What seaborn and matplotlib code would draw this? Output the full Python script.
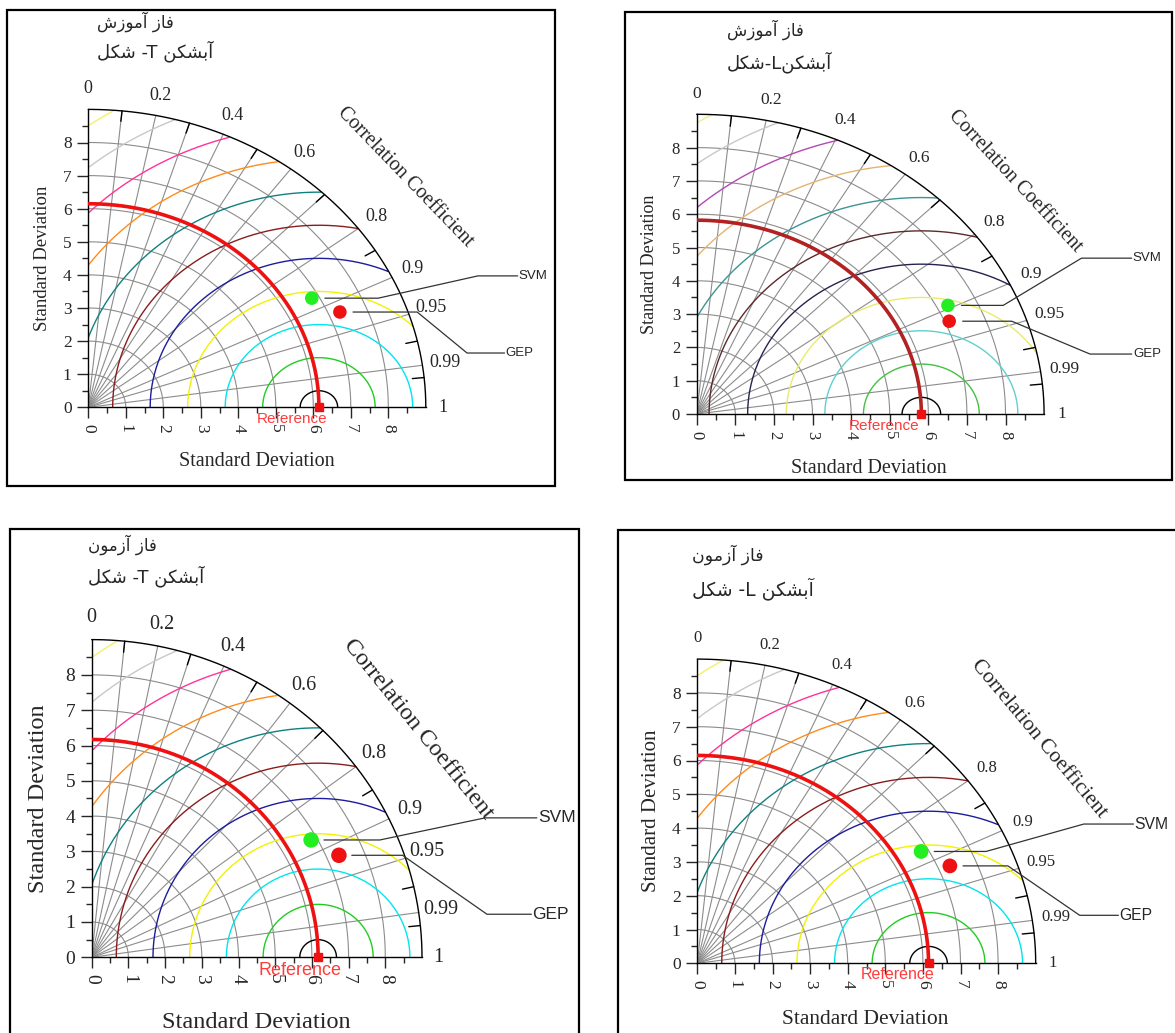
import numpy as np
import pandas as pd
import matplotlib.pyplot as plt
import seaborn as sns
from matplotlib.patches import Rectangle

sns.set_style('white')
plt.rcParams['font.family'] = ['Liberation Serif', 'DejaVu Sans']

# ---- data ----
phase_titles = ['فاز آموزش', 'فاز آموزش', 'فاز آزمون', 'فاز آزمون']
shape_titles = ['آبشکن T- شکل', 'آبشکنL-شکل', 'آبشکن T- شکل', 'آبشکن L- شکل']
models = ['SVM', 'GEP']
ref_std = [6.15, 5.82, 6.17, 6.15]
svm_std = [6.81, 7.28, 6.84, 6.81]
svm_corr = [0.875, 0.894, 0.874, 0.874]
gep_std = [7.30, 7.11, 7.33, 7.31]
gep_corr = [0.919, 0.920, 0.919, 0.919]
std_ticks = [0, 1, 2, 3, 4, 5, 6, 7, 8]
corr_ticks = [0, 0.2, 0.4, 0.6, 0.8, 0.9, 0.95, 0.99, 1]
corr_lines = [0.1, 0.2, 0.3, 0.4, 0.5, 0.6, 0.7, 0.8, 0.9, 0.95, 0.99]
corr_minor = [0.1, 0.3, 0.5, 0.7, 0.85, 0.975, 0.995]
rms_levels = [0.5, 1.5, 2.5, 3.5, 4.5, 5.5, 6.5, 7.5, 8.5, 9.5, 10.5]
rms_colors = ['black', '#22cc22', '#00e5ee', '#f2f200', '#1c1c9c', '#8b1c1c',
              '#118080', '#ff8c1a', '#ff3399', '#c8c8c8', '#f2f266']
rms_colors_muted = ['black', '#44c044', '#5fd0d0', '#eaea70', '#24244e', '#5c2a2a',
                    '#3c9494', '#e2b474', '#b448b4', '#c8c8c8', '#eeee90']
R_MAX = 9.0

# ---- simple Persian shaping (presentation forms) so the titles join ----
FORMS = {  # isolated, final, initial, medial
    'ا': ('\uFE8D', '\uFE8E', None, None),
    'آ': ('\uFE81', '\uFE82', None, None),
    'ز': ('\uFEAF', '\uFEB0', None, None),
    'و': ('\uFEED', '\uFEEE', None, None),
    'ب': ('\uFE8F', '\uFE90', '\uFE91', '\uFE92'),
    'ش': ('\uFEB5', '\uFEB6', '\uFEB7', '\uFEB8'),
    'ف': ('\uFED1', '\uFED2', '\uFED3', '\uFED4'),
    'ل': ('\uFEDD', '\uFEDE', '\uFEDF', '\uFEE0'),
    'م': ('\uFEE1', '\uFEE2', '\uFEE3', '\uFEE4'),
    'ن': ('\uFEE5', '\uFEE6', '\uFEE7', '\uFEE8'),
    'ک': ('\uFB8E', '\uFB8F', '\uFB90', '\uFB91'),
}


def rtl(text):
    out = []
    for i, ch in enumerate(text):
        if ch not in FORMS:
            out.append(ch)
            continue
        prev = text[i - 1] if i > 0 else ''
        nxt = text[i + 1] if i + 1 < len(text) else ''
        jp = prev in FORMS and FORMS[prev][2] is not None
        jn = nxt in FORMS and FORMS[ch][2] is not None
        iso, fin, ini, med = FORMS[ch]
        out.append(med if (jp and jn) else fin if jp else ini if jn else iso)
    return ''.join(out[::-1])


# ---- layout of the four panels (pixels in the 1175x1033 canvas) ----
W, H = 1175, 1033
layout = [
    dict(ox=88.3, oy=407.3, sx=37.5, sy=33.1, frame=(7, 10, 555, 486),
         title=(97, 22, 51), fs=dict(tick=12.5, corr=13, xl=14.5, yl=13.5, cc=14.5, mod=9.5, ref=11, fa=12),
         xl=(4.5, -1.65), yl=(-1.21, 4.5), cc=(8.45, 6.96, -46),
         ref_lab=(5.44, -0.36), ref_col='#ee1111', pal=rms_colors,
         svm=(7.73, 10.39, 3.97, 11.45), gep=(8.77, 10.1, 1.64, 11.1)),
    dict(ox=696.7, oy=414, sx=38.6, sy=33.3, frame=(625, 12, 1172, 480),
         title=(727, 30, 62), fs=dict(tick=12, corr=12.5, xl=14.5, yl=13, cc=14.5, mod=9.5, ref=11, fa=12),
         xl=(4.45, -1.64), yl=(-1.22, 4.5), cc=(8.25, 7.0, -47),
         ref_lab=(4.86, -0.35), ref_col='#b22222', pal=rms_colors_muted,
         svm=(7.94, 9.97, 4.68, 11.27), gep=(8.16, 10.19, 1.80, 11.27)),
    dict(ox=91.7, oy=957.3, sx=36.7, sy=35.3, frame=(10, 529, 579, 1045),
         title=(88, 545, 576), fs=dict(tick=14, corr=14.5, xl=17.5, yl=17.5, cc=17.5, mod=12.5, ref=13, fa=12),
         xl=(4.48, -1.85), yl=(-1.46, 4.5), cc=(8.89, 6.45, -51),
         ref_lab=(5.68, -0.38), ref_col='#ee1111', pal=rms_colors,
         svm=(7.85, 10.72, 3.95, 12.13), gep=(8.47, 10.77, 1.22, 11.98)),
    dict(ox=697.3, oy=963.3, sx=37.6, sy=33.8, frame=(618, 530, 1185, 1045),
         title=(692, 555, 589), fs=dict(tick=12.5, corr=12, xl=15.5, yl=15, cc=15.5, mod=11.3, ref=11.5, fa=12.5),
         xl=(4.47, -1.66), yl=(-1.21, 4.5), cc=(9.09, 6.63, -50),
         ref_lab=(5.32, -0.34), ref_col='#ee1111', pal=rms_colors,
         svm=(7.68, 10.28, 4.12, 11.6), gep=(8.26, 10.17, 1.42, 11.2)),
]

fig = plt.figure(figsize=(W / 100, H / 100), dpi=100)
th_q = np.linspace(0, np.pi / 2, 200)
th_h = np.linspace(0, np.pi, 600)
grid_col = '#8c8c8c'
sans = ['Liberation Sans', 'DejaVu Sans']

for i, L in enumerate(layout):
    fs = L['fs']
    # panel frame
    x0, y0, x1, y1 = L['frame']
    fig.add_artist(Rectangle((x0 / W, 1 - y1 / H), (x1 - x0) / W, (y1 - y0) / H,
                             transform=fig.transFigure, fill=False, lw=1.6, ec='black'))
    # Persian titles
    tx, ty1, ty2 = L['title']
    fig.text(tx / W, 1 - ty1 / H, rtl(phase_titles[i]), family=['DejaVu Sans'],
             fontsize=fs['fa'], ha='left', va='center')
    fig.text(tx / W, 1 - ty2 / H, rtl(shape_titles[i]), family=['DejaVu Sans'],
             fontsize=fs['fa'] + 1, ha='left', va='center')

    ax = fig.add_axes([L['ox'] / W, 1 - L['oy'] / H,
                       R_MAX * L['sx'] / W, R_MAX * L['sy'] / H])
    ax.set_xlim(0, R_MAX)
    ax.set_ylim(0, R_MAX)
    ax.patch.set_alpha(0)
    ax.spines['top'].set_visible(False)
    ax.spines['right'].set_visible(False)
    for s in ['left', 'bottom']:
        ax.spines[s].set_color('black')
        ax.spines[s].set_linewidth(1.0)
    ax.set_xticks(std_ticks)
    ax.set_yticks(std_ticks)
    ax.set_xticks(np.array(std_ticks) + 0.5, minor=True)
    ax.set_yticks(np.array(std_ticks) + 0.5, minor=True)
    ax.set_xticklabels([str(t) for t in std_ticks], rotation=-90)
    ax.set_yticklabels([str(t) for t in std_ticks])
    ax.tick_params(which='major', direction='out', length=8, width=1,
                   labelsize=fs['tick'], pad=4, left=True, bottom=True)
    ax.tick_params(which='minor', direction='out', length=4, width=1, left=True, bottom=True)

    ref = ref_std[i]
    # standard deviation arcs and correlation rays
    for r in std_ticks[1:]:
        ax.plot(r * np.cos(th_q), r * np.sin(th_q), color=grid_col, lw=0.8)
    for c in corr_lines:
        ax.plot([0, R_MAX * c], [0, R_MAX * np.sqrt(1 - c ** 2)], color=grid_col, lw=0.8)
    # centred RMS arcs around the reference point
    for r, col in zip(rms_levels, L['pal']):
        x = ref + r * np.cos(th_h)
        y = r * np.sin(th_h)
        bad = (x < 0) | (x ** 2 + y ** 2 > R_MAX ** 2)
        x[bad] = np.nan
        y[bad] = np.nan
        ax.plot(x, y, color=col, lw=1.0)
    # outer arc with correlation ticks
    ax.plot(R_MAX * np.cos(th_q), R_MAX * np.sin(th_q), color='black', lw=1.0, clip_on=False)
    for c in corr_minor:
        s = np.sqrt(1 - c ** 2)
        ax.plot([0.965 * R_MAX * c, R_MAX * c], [0.965 * R_MAX * s, R_MAX * s],
                color='black', lw=1.0, clip_on=False)
    for c in corr_ticks:
        r_lab = 9.45 if c == 1 else 9.62
        ax.text(r_lab * c, r_lab * np.sqrt(1 - c ** 2), f'{c:g}', ha='center', va='center',
                fontsize=fs['corr'], clip_on=False)
    # reference std arc, point and label
    ax.plot(ref * np.cos(th_q), ref * np.sin(th_q), color=L['ref_col'], lw=2.6, zorder=4)
    ax.plot([ref], [0], 's', color='#ee1111', ms=6, clip_on=False, zorder=6)
    ax.text(*L['ref_lab'], 'Reference', color='#ff3b3b', family=sans, fontsize=fs['ref'],
            ha='center', va='center', clip_on=False, zorder=7)

    # model points
    stds = [svm_std[i], gep_std[i]]
    cors = [svm_corr[i], gep_corr[i]]
    df = pd.DataFrame({'model': models,
                       'x': [s * c for s, c in zip(stds, cors)],
                       'y': [s * np.sqrt(1 - c ** 2) for s, c in zip(stds, cors)]})
    sns.scatterplot(data=df, x='x', y='y', hue='model',
                    palette={'SVM': '#22ee22', 'GEP': '#ee1111'},
                    s=fs['mod'] * 10, edgecolor='none', legend=False, ax=ax, zorder=6)
    # leader lines to model names
    for m, (px, py) in zip(models, zip(df['x'], df['y'])):
        k1, k2x, k2y, end = L['svm'] if m == 'SVM' else L['gep']
        ax.plot([px + 0.35, k1, k2x, end], [py, py, k2y, k2y],
                color='#333333', lw=0.9, clip_on=False, zorder=5)
        ax.text(end + 0.03, k2y, m, family=sans, fontsize=fs['mod'],
                ha='left', va='center', clip_on=False)

    ax.set_xlabel('')
    ax.set_ylabel('')
    ax.text(*L['xl'], 'Standard Deviation', fontsize=fs['xl'], ha='center', va='center',
            clip_on=False)
    ax.text(*L['yl'], 'Standard Deviation', fontsize=fs['yl'], ha='center', va='center',
            rotation=90, clip_on=False)
    ax.text(L['cc'][0], L['cc'][1], 'Correlation Coefficient', fontsize=fs['cc'],
            rotation=L['cc'][2], rotation_mode='anchor', ha='center', va='center', clip_on=False)

fig.savefig('out.png', dpi=100, facecolor='white')
